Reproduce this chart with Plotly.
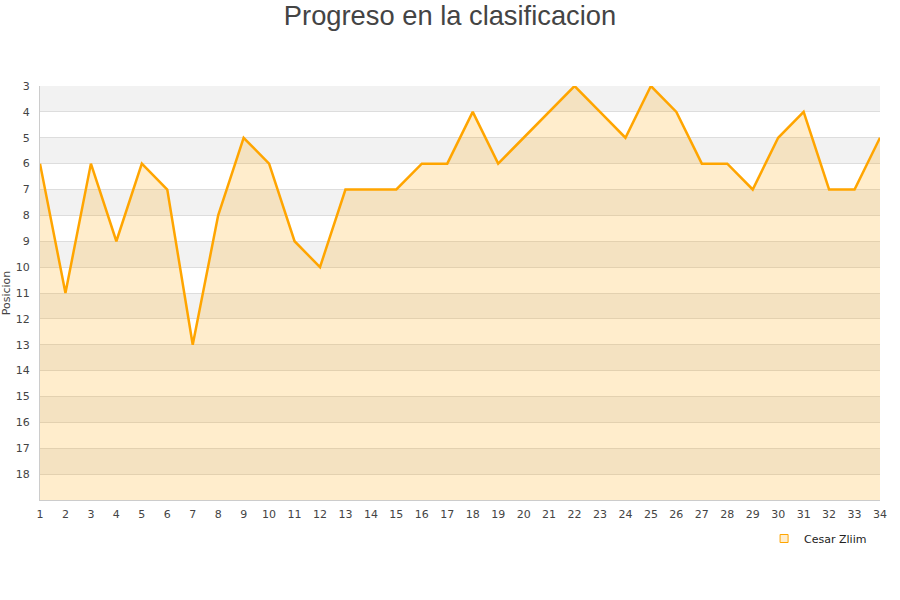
import plotly.graph_objects as go

jornadas = list(range(1, 35))
posiciones = [6, 11, 6, 9, 6, 7, 13, 8, 5, 6, 9, 10, 7, 7, 7, 6, 6, 4, 6, 5,
              4, 3, 4, 5, 3, 4, 6, 6, 7, 5, 4, 7, 7, 5]
y_ticks = list(range(3, 19))
y_min, y_max = 3, 19
serie = "Cesar Zliim"

fig = go.Figure()

# alternating bands
shapes = []
for k in range(y_min, y_max, 2):
    shapes.append(dict(type="rect", xref="paper", yref="y", x0=0, x1=1,
                       y0=k, y1=k + 1, fillcolor="#f2f2f2", line_width=0,
                       layer="below"))

fig.add_trace(go.Scatter(x=jornadas, y=[y_max] * len(jornadas), mode="lines",
                         line=dict(width=0, color="rgba(0,0,0,0)"),
                         showlegend=False, hoverinfo="skip"))
fig.add_trace(go.Scatter(x=jornadas, y=posiciones, mode="lines",
                         line=dict(color="#ffa500", width=2.5),
                         fill="tonexty", fillcolor="rgba(255,165,0,0.2)",
                         name=serie, showlegend=False))
fig.add_trace(go.Scatter(x=[None], y=[None], mode="markers", name=serie,
                         marker=dict(symbol="square", size=8,
                                     color="rgba(255,165,0,0.2)",
                                     line=dict(color="#ffa500", width=1))))

fig.update_layout(
    width=900, height=600,
    paper_bgcolor="white", plot_bgcolor="white",
    margin=dict(l=40, r=20, t=86, b=100, autoexpand=False),
    title=dict(text="Progreso en la clasificacion", x=0.5, xanchor="center",
               y=0.975, yanchor="middle",
               font=dict(family="Liberation Sans, Arial", size=27.3, color="#444444")),
    font=dict(family="DejaVu Sans", size=11, color="#444444"),
    shapes=shapes,
    showlegend=True,
    legend=dict(orientation="h", x=0.862, y=-0.058, xanchor="left", yanchor="top",
                font=dict(size=11, color="#222222"), bgcolor="rgba(0,0,0,0)"),
)
fig.update_xaxes(range=[1, 34], tickmode="array", tickvals=jornadas,
                 ticktext=[str(j) for j in jornadas], showgrid=False,
                 zeroline=False, showline=True, linecolor="#cccccc", linewidth=1,
                 ticks="", automargin=False, ticklabelstandoff=4,
                 tickfont=dict(size=11, color="#444444"))
fig.update_yaxes(range=[y_max, y_min], tickmode="array", tickvals=y_ticks,
                 ticktext=[str(t) for t in y_ticks], showgrid=True,
                 gridcolor="#dddddd", gridwidth=1, zeroline=False, showline=True,
                 linecolor="#cccccc", linewidth=1, ticks="", automargin=False,
                 ticklabelstandoff=7,
                 title=dict(text="Posicion", font=dict(size=11, color="#444444"),
                            standoff=3),
                 tickfont=dict(size=11, color="#444444"))

fig.write_html("out.html", config={"displayModeBar": False},
               post_script="document.body.style.margin='0';")
